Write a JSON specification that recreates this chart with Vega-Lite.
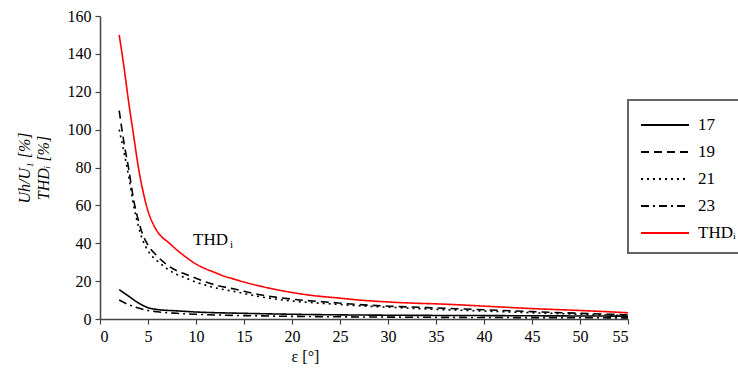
{
  "$schema": "https://vega.github.io/schema/vega-lite/v6.json",
  "width": 528,
  "height": 303,
  "autosize": {"type": "none"},
  "padding": {"left": 100, "top": 16, "right": 110, "bottom": 55},
  "background": "white",
  "config": {
    "view": {"stroke": null},
    "font": "Liberation Serif",
    "style": {"guide-label": {"font": "Liberation Serif"}, "guide-title": {"font": "Liberation Serif"}},
    "axis": {"labelFont": "Liberation Serif", "titleFont": "Liberation Serif"},
    "legend": {"orient": "none", "legendX": 528, "legendY": 84, "symbolType": "M-1,0H3", "symbolSize": 576, "symbolStrokeWidth": 1.8, "labelFontSize": 17, "labelFont": "Liberation Serif", "labelColor": "black", "labelOffset": 32, "rowPadding": 6, "padding": 12, "strokeColor": "#666", "strokeWidth": 2, "fillColor": "white", "labelLimit": 200}
  },
  "datasets": {
    "curves": [
      {"e": 2, "v": 150, "s": "THD"}, {"e": 2.5, "v": 133, "s": "THD"}, {"e": 3, "v": 114, "s": "THD"}, {"e": 3.5, "v": 97, "s": "THD"}, {"e": 4, "v": 80, "s": "THD"}, {"e": 4.5, "v": 67, "s": "THD"}, {"e": 5, "v": 57, "s": "THD"}, {"e": 5.5, "v": 50.5, "s": "THD"}, {"e": 6, "v": 46, "s": "THD"}, {"e": 6.5, "v": 43, "s": "THD"}, {"e": 7, "v": 41, "s": "THD"}, {"e": 8, "v": 36.5, "s": "THD"}, {"e": 9, "v": 32.5, "s": "THD"}, {"e": 10, "v": 29, "s": "THD"}, {"e": 11, "v": 26.5, "s": "THD"}, {"e": 12, "v": 24.5, "s": "THD"}, {"e": 13, "v": 22.5, "s": "THD"}, {"e": 14, "v": 21, "s": "THD"}, {"e": 15, "v": 19.5, "s": "THD"}, {"e": 17, "v": 17, "s": "THD"}, {"e": 20, "v": 14, "s": "THD"}, {"e": 22, "v": 12.5, "s": "THD"}, {"e": 25, "v": 11, "s": "THD"}, {"e": 27, "v": 10, "s": "THD"}, {"e": 30, "v": 9, "s": "THD"}, {"e": 33, "v": 8.3, "s": "THD"}, {"e": 35, "v": 8, "s": "THD"}, {"e": 40, "v": 6.8, "s": "THD"}, {"e": 45, "v": 5.5, "s": "THD"}, {"e": 50, "v": 4.5, "s": "THD"}, {"e": 55, "v": 3.3, "s": "THD"},
      {"e": 2, "v": 110, "s": "19"}, {"e": 2.5, "v": 93, "s": "19"}, {"e": 3, "v": 79, "s": "19"}, {"e": 3.5, "v": 63, "s": "19"}, {"e": 4, "v": 52, "s": "19"}, {"e": 4.5, "v": 44, "s": "19"}, {"e": 5, "v": 39, "s": "19"}, {"e": 6, "v": 33, "s": "19"}, {"e": 7, "v": 28.5, "s": "19"}, {"e": 8, "v": 25.5, "s": "19"}, {"e": 9, "v": 23.5, "s": "19"}, {"e": 10, "v": 21.5, "s": "19"}, {"e": 12, "v": 18, "s": "19"}, {"e": 14, "v": 15.8, "s": "19"}, {"e": 17, "v": 12.5, "s": "19"}, {"e": 20, "v": 10.5, "s": "19"}, {"e": 24, "v": 8.8, "s": "19"}, {"e": 27, "v": 7.6, "s": "19"}, {"e": 31, "v": 6.6, "s": "19"}, {"e": 34, "v": 6, "s": "19"}, {"e": 40, "v": 4.9, "s": "19"}, {"e": 45, "v": 3.9, "s": "19"}, {"e": 50, "v": 3, "s": "19"}, {"e": 55, "v": 2.2, "s": "19"},
      {"e": 2, "v": 100, "s": "21"}, {"e": 2.5, "v": 88, "s": "21"}, {"e": 3, "v": 75, "s": "21"}, {"e": 3.5, "v": 60, "s": "21"}, {"e": 4, "v": 49, "s": "21"}, {"e": 4.5, "v": 41, "s": "21"}, {"e": 5, "v": 36, "s": "21"}, {"e": 6, "v": 30.5, "s": "21"}, {"e": 7, "v": 26.5, "s": "21"}, {"e": 8, "v": 23.5, "s": "21"}, {"e": 9, "v": 21.5, "s": "21"}, {"e": 10, "v": 19.5, "s": "21"}, {"e": 12, "v": 16.5, "s": "21"}, {"e": 14, "v": 14.5, "s": "21"}, {"e": 17, "v": 11.5, "s": "21"}, {"e": 20, "v": 9.5, "s": "21"}, {"e": 24, "v": 8, "s": "21"}, {"e": 27, "v": 7, "s": "21"}, {"e": 31, "v": 6, "s": "21"}, {"e": 34, "v": 5.3, "s": "21"}, {"e": 40, "v": 4.2, "s": "21"}, {"e": 45, "v": 3.3, "s": "21"}, {"e": 50, "v": 2.5, "s": "21"}, {"e": 55, "v": 1.8, "s": "21"},
      {"e": 2, "v": 15.5, "s": "17"}, {"e": 3, "v": 12, "s": "17"}, {"e": 4, "v": 8.5, "s": "17"}, {"e": 5, "v": 6, "s": "17"}, {"e": 6, "v": 5, "s": "17"}, {"e": 8, "v": 4.3, "s": "17"}, {"e": 10, "v": 3.7, "s": "17"}, {"e": 15, "v": 3, "s": "17"}, {"e": 20, "v": 2.5, "s": "17"}, {"e": 30, "v": 2, "s": "17"}, {"e": 40, "v": 1.8, "s": "17"}, {"e": 55, "v": 1.5, "s": "17"},
      {"e": 2, "v": 10, "s": "23"}, {"e": 3, "v": 7.5, "s": "23"}, {"e": 4, "v": 5.8, "s": "23"}, {"e": 5, "v": 4.5, "s": "23"}, {"e": 6, "v": 3.8, "s": "23"}, {"e": 8, "v": 3, "s": "23"}, {"e": 10, "v": 2.5, "s": "23"}, {"e": 15, "v": 1.8, "s": "23"}, {"e": 20, "v": 1.4, "s": "23"}, {"e": 30, "v": 1, "s": "23"}, {"e": 40, "v": 0.8, "s": "23"}, {"e": 55, "v": 0.6, "s": "23"}
    ],
    "notes": [
      {"e": 9.7, "v": 39, "t": "THD", "sub": "i"}
    ]
  },
  "encoding": {
    "x": {"field": "e", "type": "quantitative", "scale": {"domain": [0, 55], "nice": false}, "axis": {"values": [0, 5, 10, 15, 20, 25, 30, 35, 40, 45, 50, 55], "title": "ε [°]", "titleX": 205, "titlePadding": 4, "grid": false, "domainColor": "#444", "tickColor": "#444", "labelColor": "black", "titleColor": "black", "labelFont": "Liberation Serif", "titleFont": "Liberation Serif", "labelFontSize": 16, "titleFontSize": 16, "titleFontWeight": "normal", "tickSize": 5, "domainWidth": 1.5, "tickWidth": 1.2, "labelOverlap": false, "labelPadding": 4}},
    "y": {"field": "v", "type": "quantitative", "scale": {"domain": [0, 160], "nice": false}, "axis": {"values": [0, 20, 40, 60, 80, 100, 120, 140, 160], "title": ["Uh/U₁  [%]", "THDᵢ  [%]"], "titleFontStyle": "italic", "titlePadding": 16, "titleLineHeight": 19, "grid": false, "domainColor": "#444", "tickColor": "#444", "labelColor": "black", "titleColor": "black", "labelFont": "Liberation Serif", "titleFont": "Liberation Serif", "labelFontSize": 16, "titleFontSize": 16, "titleFontWeight": "normal", "tickSize": 5, "domainWidth": 1.5, "tickWidth": 1.2, "labelOverlap": false, "labelPadding": 4}}
  },
  "layer": [
    {
      "data": {"name": "curves"},
      "mark": {"type": "line", "strokeWidth": 1.6, "interpolate": "monotone"},
      "encoding": {
        "color": {"field": "s", "type": "nominal", "scale": {"domain": ["17", "19", "21", "23", "THD"], "range": ["black", "black", "black", "black", "red"]}, "legend": {"title": null, "labelExpr": "datum.value == 'THD' ? 'THDᵢ' : datum.value"}},
        "strokeDash": {"field": "s", "type": "nominal", "scale": {"domain": ["17", "19", "21", "23", "THD"], "range": [[1, 0], [8, 5], [2, 4], [8, 4, 2, 4], [1, 0]]}, "legend": {"title": null, "labelExpr": "datum.value == 'THD' ? 'THDᵢ' : datum.value"}}
      }
    },
    {
      "data": {"name": "notes"},
      "mark": {"type": "text", "align": "left", "baseline": "alphabetic", "fontSize": 17, "font": "Liberation Serif"},
      "encoding": {"text": {"field": "t"}}
    },
    {
      "data": {"name": "notes"},
      "mark": {"type": "text", "align": "left", "baseline": "alphabetic", "fontSize": 11, "dx": 37, "dy": 3, "font": "Liberation Serif"},
      "encoding": {"text": {"field": "sub"}}
    }
  ]
}
